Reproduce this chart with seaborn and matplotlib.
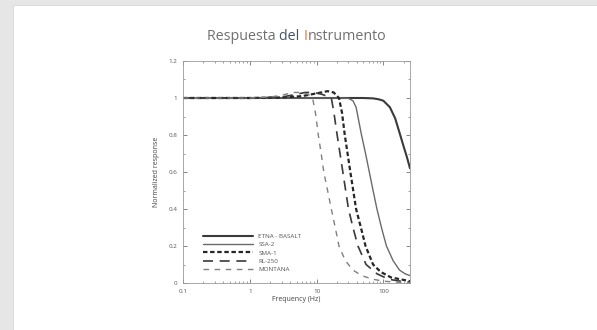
import matplotlib
matplotlib.use("Agg")
import matplotlib.pyplot as plt
import seaborn as sns
import pandas as pd
from matplotlib.patches import Rectangle
from matplotlib.ticker import LogLocator, NullFormatter, MultipleLocator

# ---------------- data ----------------
series_names = ["ETNA - BASALT", "SSA-2", "SMA-1", "RL-250", "MONTANA"]

etna_f = [0.1, 1, 10, 50, 70, 85, 100, 125, 150, 175, 200, 225, 250]
etna_r = [1, 1, 1, 1, 0.998, 0.993, 0.985, 0.95, 0.89, 0.81, 0.74, 0.68, 0.62]

ssa_f = [0.1, 1, 10, 25, 30, 35, 39, 47, 54, 61.5, 70, 80, 95, 111, 140, 174, 210, 250]
ssa_r = [1, 1, 1, 1, 0.998, 0.985, 0.95, 0.8, 0.7, 0.6, 0.5, 0.4, 0.29, 0.2, 0.12, 0.07, 0.05, 0.04]

sma_f = [0.1, 1, 3, 6, 10, 14.6, 18, 21.6, 24, 26.4, 32, 39, 46, 54, 70, 91, 130, 180, 250]
sma_r = [1, 1, 1.003, 1.01, 1.025, 1.037, 1.03, 1.0, 0.92, 0.8, 0.6, 0.4, 0.3, 0.2, 0.1, 0.06, 0.03, 0.02, 0.01]

rl_f = [0.1, 1, 3, 5, 6.7, 9, 12, 16.6, 18, 20.3, 24.7, 30, 35, 41.6, 55, 80, 120, 180, 250]
rl_r = [1, 1, 1.005, 1.02, 1.03, 1.03, 1.02, 1.0, 0.93, 0.8, 0.6, 0.4, 0.3, 0.2, 0.1, 0.05, 0.02, 0.01, 0.005]

mon_f = [0.1, 1, 2, 3, 4.5, 6, 7.5, 8.7, 9.6, 10.6, 11.7, 12.8, 14.6, 16.6, 19, 21.6, 27, 35, 47, 70, 100, 150, 250]
mon_r = [1, 1, 1.005, 1.015, 1.03, 1.03, 1.02, 1.0, 0.92, 0.8, 0.7, 0.6, 0.5, 0.4, 0.3, 0.2, 0.12, 0.07, 0.04, 0.02, 0.01, 0.005, 0.0]

x_ticks = [0.1, 1, 10, 100]
x_tick_labels = ["0.1", "1", "10", "100"]
y_ticks = [0, 0.2, 0.4, 0.6, 0.8, 1.0, 1.2]
y_tick_labels = ["0", "0.2", "0.4", "0.6", "0.8", "1", "1.2"]

frames = []
for name, f, r in zip(series_names,
                      [etna_f, ssa_f, sma_f, rl_f, mon_f],
                      [etna_r, ssa_r, sma_r, rl_r, mon_r]):
    frames.append(pd.DataFrame({"freq": f, "resp": r, "inst": name}))
df = pd.concat(frames, ignore_index=True)

# ---------------- figure ----------------
sns.set_theme(style="white")
plt.rcParams["font.family"] = ["Open Sans", "DejaVu Sans"]

W, H = 597, 330
fig = plt.figure(figsize=(W / 100, H / 100), dpi=100, facecolor="#e6e6e6")
fig.add_artist(Rectangle((13 / W, 0), 1 - 13 / W, 1 - 5 / H, transform=fig.transFigure,
                         facecolor="white", edgecolor="#d6d6d6", lw=0.6, zorder=0))

ax = fig.add_axes([183 / W, 1 - 283 / H, 227 / W, 222 / H])
ax.set_facecolor("white")

styles = {
    "ETNA - BASALT": dict(color="#3a3a3a", lw=1.5, dashes=None),
    "SSA-2": dict(color="#6a6a6a", lw=1.0, dashes=None),
    "SMA-1": dict(color="#262626", lw=1.6, dashes=(2.0, 1.2)),
    "RL-250": dict(color="#3a3a3a", lw=1.2, dashes=(6, 4)),
    "MONTANA": dict(color="#808080", lw=1.0, dashes=(4, 4)),
}

for name in series_names:
    st = styles[name]
    sub = df[df["inst"] == name]
    sns.lineplot(data=sub, x="freq", y="resp", ax=ax, color=st["color"], lw=st["lw"],
                 estimator=None, sort=False, label=name)
    line = ax.get_lines()[-1]
    if st["dashes"] is not None:
        line.set_dashes(st["dashes"])

ax.set_xscale("log")
ax.set_xlim(0.1, 250)
ax.set_ylim(0, 1.2)
ax.set_xticks(x_ticks)
ax.set_xticklabels(x_tick_labels)
ax.xaxis.set_minor_locator(LogLocator(base=10, subs=range(2, 10)))
ax.xaxis.set_minor_formatter(NullFormatter())
ax.set_yticks(y_ticks)
ax.set_yticklabels(y_tick_labels)
ax.yaxis.set_minor_locator(MultipleLocator(0.1))
ax.tick_params(which="both", direction="in", top=True, right=True, left=True, bottom=True,
               colors="#555555", labelsize=4.5, pad=4)
ax.tick_params(which="major", length=3, width=0.5)
ax.tick_params(which="minor", length=1.5, width=0.4)
for s in ax.spines.values():
    s.set_color("#9a9a9a")
    s.set_linewidth(0.6)

ax.set_xlabel("Frequency (Hz)", fontsize=5, color="#444444", labelpad=2)
ax.set_ylabel("Normalized response", fontsize=5, color="#444444", labelpad=6)

leg = ax.legend(loc="lower left", bbox_to_anchor=(0.07, 0.03), frameon=False, fontsize=4.5,
                handlelength=8, handletextpad=0.8, labelspacing=0.45, borderpad=0.2)
for t in leg.get_texts():
    t.set_color("#555555")

# ---------------- title with coloured pieces ----------------
t1 = fig.text(207 / W, 1 - 40 / H, "Respuesta ", fontsize=10.3, color="#707070", va="baseline")
t2 = ax.annotate("del ", xy=(1, 0), xycoords=t1, fontsize=10.3, color="#44546a", va="bottom",
                 annotation_clip=False)
t3 = ax.annotate("I", xy=(1, 0), xycoords=t2, fontsize=10.3, color="#e07b39", va="bottom",
                 annotation_clip=False)
t4 = ax.annotate("nstrumento", xy=(1, 0), xycoords=t3, fontsize=10.3, color="#707070",
                 va="bottom", annotation_clip=False)

fig.savefig("out.png", dpi=100, facecolor=fig.get_facecolor())
